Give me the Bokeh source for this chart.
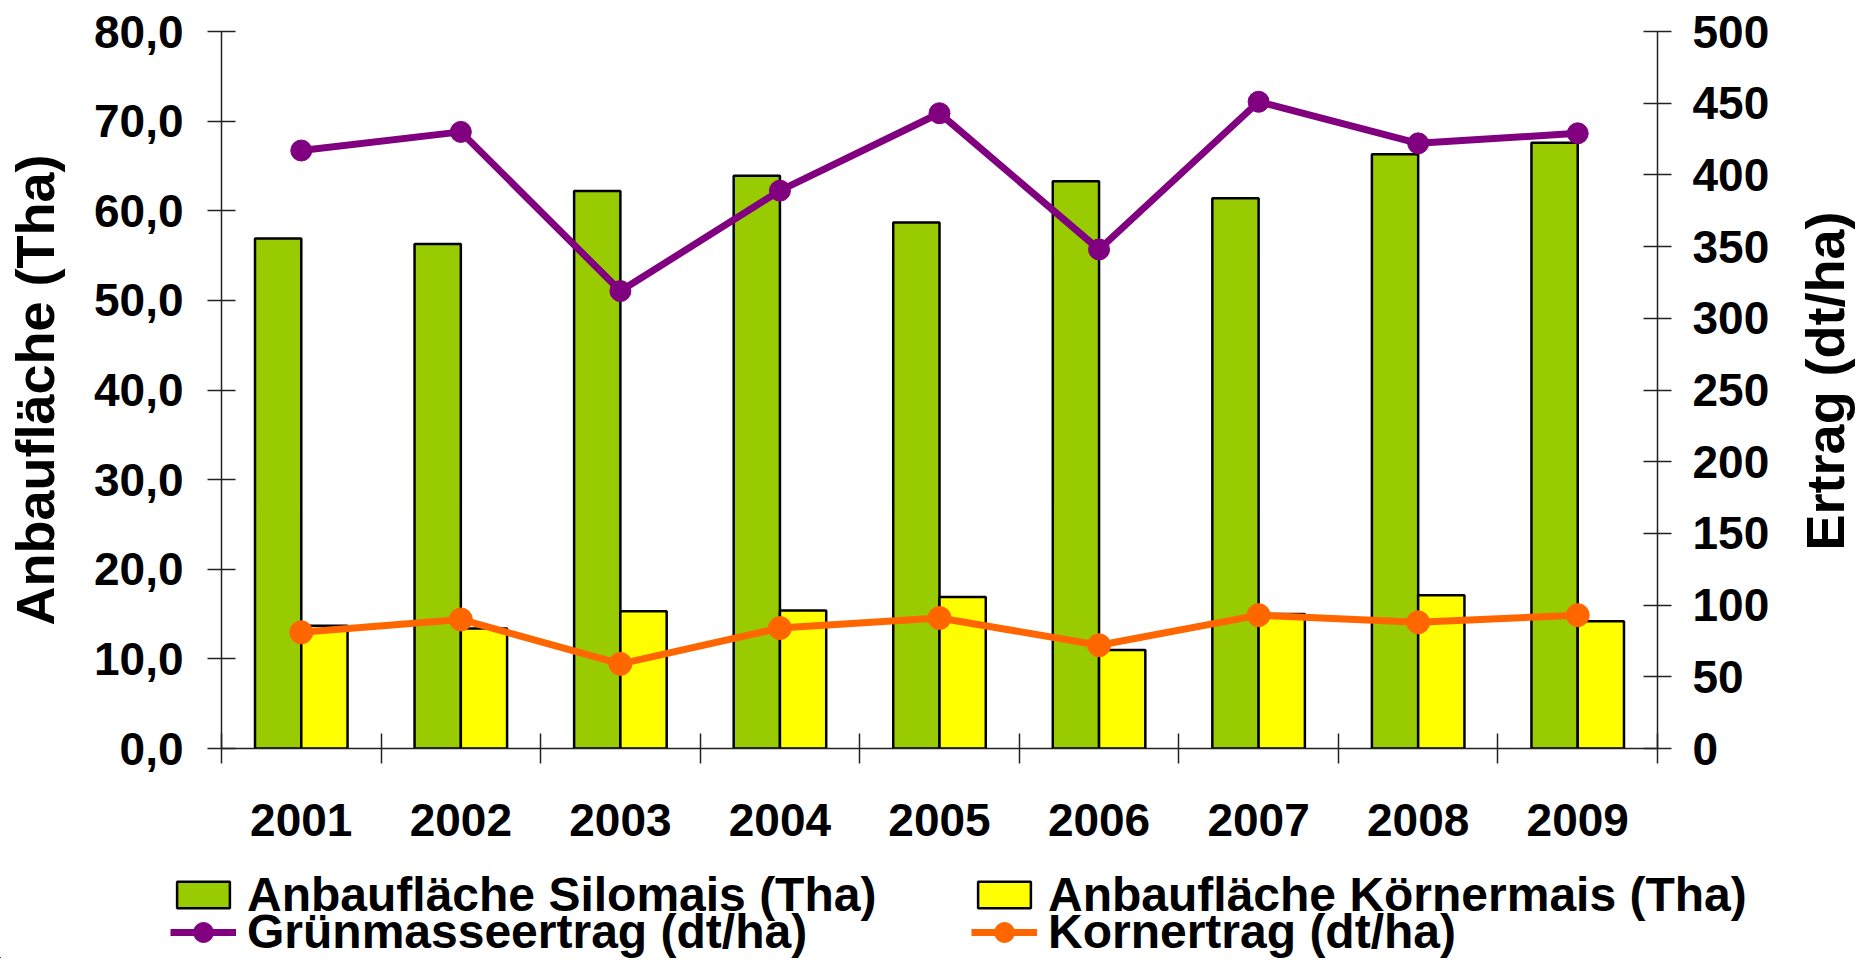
import numpy as np
from bokeh.plotting import figure
from bokeh.layouts import column, row
from bokeh.models import (Range1d, LinearAxis, FixedTicker, CustomJSTickFormatter,
                          Legend, LegendItem, Label)
from bokeh.embed import file_html
from bokeh.resources import INLINE

years = ["2001", "2002", "2003", "2004", "2005", "2006", "2007", "2008", "2009"]
silomais = [56.9, 56.3, 62.2, 63.9, 58.7, 63.3, 61.4, 66.3, 67.6]
koernermais = [13.7, 13.4, 15.3, 15.4, 16.9, 11.0, 15.0, 17.1, 14.2]
gruenmasse = [417, 430, 319, 389, 443, 348, 451, 422, 429]
kornertrag = [81, 90, 59, 84, 91, 72, 93, 88, 93]
left_ticks = [0, 10, 20, 30, 40, 50, 60, 70, 80]
right_ticks = [0, 50, 100, 150, 200, 250, 300, 350, 400, 450, 500]

FONT = "Liberation Sans"
GREEN = "#99CC00"
YELLOW = "#FFFF00"
PURPLE = "#800080"
ORANGE = "#FF6600"

TOTAL_W, TOTAL_H = 1864, 958
MAIN_W, MAIN_H = 1790, 870

n = len(years)
idx = np.arange(n) + 0.5
bw = 0.29

p = figure(width=MAIN_W, height=MAIN_H, x_range=Range1d(0, n), y_range=Range1d(0, 80),
           output_backend="svg", toolbar_location=None,
           min_border_left=221, min_border_right=MAIN_W - 1657,
           min_border_top=31, min_border_bottom=MAIN_H - 748)
p.extra_y_ranges = {"right": Range1d(0, 500)}
p.xgrid.visible = False
p.ygrid.visible = False
p.outline_line_color = None


def style_axis(ax):
    ax.axis_line_color = "#222222"
    ax.axis_line_width = 1.5
    ax.major_tick_line_color = "#222222"
    ax.major_tick_line_width = 1.5
    ax.minor_tick_line_color = "#222222"
    ax.minor_tick_line_width = 1.5
    ax.major_label_text_font = FONT
    ax.major_label_text_font_style = "bold"
    ax.major_label_text_font_size = "46px"
    ax.major_label_text_color = "black"


# x axis
xax = p.xaxis[0]
style_axis(xax)
xax.ticker = FixedTicker(ticks=list(idx), minor_ticks=list(range(n + 1)))
xax.formatter = CustomJSTickFormatter(args=dict(years=years),
                                      code="return years[Math.floor(tick)];")
xax.major_tick_in = 0
xax.major_tick_out = 0
xax.minor_tick_in = 15
xax.minor_tick_out = 15
xax.major_label_standoff = 40

# left y axis
yax = p.yaxis[0]
style_axis(yax)
yax.ticker = FixedTicker(ticks=left_ticks)
yax.formatter = CustomJSTickFormatter(code="return tick.toFixed(1).replace('.', ',');")
yax.major_tick_in = 14
yax.major_tick_out = 14
yax.minor_tick_in = 0
yax.minor_tick_out = 0
yax.major_label_standoff = 24
yax.axis_label = "Anbaufläche (Tha)"
yax.axis_label_text_font = FONT
yax.axis_label_text_font_style = "bold"
yax.axis_label_text_font_size = "54px"
yax.axis_label_text_color = "black"
yax.axis_label_standoff = 26

# right y axis
rax = LinearAxis(y_range_name="right", ticker=FixedTicker(ticks=right_ticks))
style_axis(rax)
rax.major_tick_in = 14
rax.major_tick_out = 14
rax.minor_tick_in = 0
rax.minor_tick_out = 0
rax.major_label_standoff = 21
p.add_layout(rax, "right")

# bars
bar_style = dict(width=bw, line_color="black", line_width=2.5)
p.vbar(x=idx - bw / 2, top=silomais, fill_color=GREEN, **bar_style)
p.vbar(x=idx + bw / 2, top=koernermais, fill_color=YELLOW, **bar_style)

# lines
p.line(idx, gruenmasse, y_range_name="right", line_color=PURPLE, line_width=7)
p.scatter(idx, gruenmasse, y_range_name="right", size=21,
          fill_color=PURPLE, line_color=PURPLE)
p.line(idx, kornertrag, y_range_name="right", line_color=ORANGE, line_width=7)
p.scatter(idx, kornertrag, y_range_name="right", size=23,
          fill_color=ORANGE, line_color=ORANGE)

# right axis title (reads bottom-to-top)
TW = TOTAL_W - MAIN_W
tfig = figure(width=TW, height=MAIN_H, x_range=Range1d(0, TW), y_range=Range1d(0, MAIN_H),
              x_axis_type=None, y_axis_type=None, output_backend="svg",
              toolbar_location=None, min_border=0)
tfig.grid.visible = False
tfig.outline_line_color = None
tfig.add_layout(Label(x=1824 - MAIN_W, y=MAIN_H - 424, text="Ertrag (dt/ha)",
                      angle=np.pi / 2, text_align="center", text_baseline="middle",
                      text_font=FONT, text_font_style="bold", text_font_size="54px",
                      text_color="black"))

# legend panel (legend swatches use renderers placed outside the visible range)
LH = TOTAL_H - MAIN_H
lfig = figure(width=TOTAL_W, height=LH, x_range=Range1d(0, 1), y_range=Range1d(0, 1),
              x_axis_type=None, y_axis_type=None, output_backend="svg",
              toolbar_location=None, min_border=0)
lfig.grid.visible = False
lfig.outline_line_color = None
off = [-10, -9]
lg = lfig.vbar(x=off, top=off, fill_color=GREEN, **bar_style)
ly = lfig.vbar(x=off, top=off, fill_color=YELLOW, **bar_style)
lpl = lfig.line(x=off, y=off, line_color=PURPLE, line_width=7)
lps = lfig.scatter(x=off, y=off, size=19, fill_color=PURPLE, line_color=PURPLE)
lol = lfig.line(x=off, y=off, line_color=ORANGE, line_width=7)
los = lfig.scatter(x=off, y=off, size=19, fill_color=ORANGE, line_color=ORANGE)


def make_legend(items, loc, gh):
    return Legend(items=items, orientation="horizontal", location=loc,
                  padding=0, margin=0, spacing=3,
                  glyph_width=66, glyph_height=gh, label_standoff=11, label_width=721,
                  border_line_color=None, background_fill_alpha=0,
                  label_text_font=FONT, label_text_font_style="bold",
                  label_text_font_size="48px", label_text_color="black")


row1_center = TOTAL_H - 895   # from bottom
row2_center = TOTAL_H - 932
leg1 = make_legend([LegendItem(label="Anbaufläche Silomais (Tha)", renderers=[lg]),
                    LegendItem(label="Anbaufläche Körnermais (Tha)", renderers=[ly])],
                   (170, row1_center - 27), 33)
leg2 = make_legend([LegendItem(label="Grünmasseertrag (dt/ha)", renderers=[lpl, lps]),
                    LegendItem(label="Kornertrag (dt/ha)", renderers=[lol, los])],
                   (170, row2_center - 27), 50)
lfig.add_layout(leg1, "center")
lfig.add_layout(leg2, "center")

layout = column(row(p, tfig), lfig)
open("out.html", "w").write(file_html(layout, INLINE))
